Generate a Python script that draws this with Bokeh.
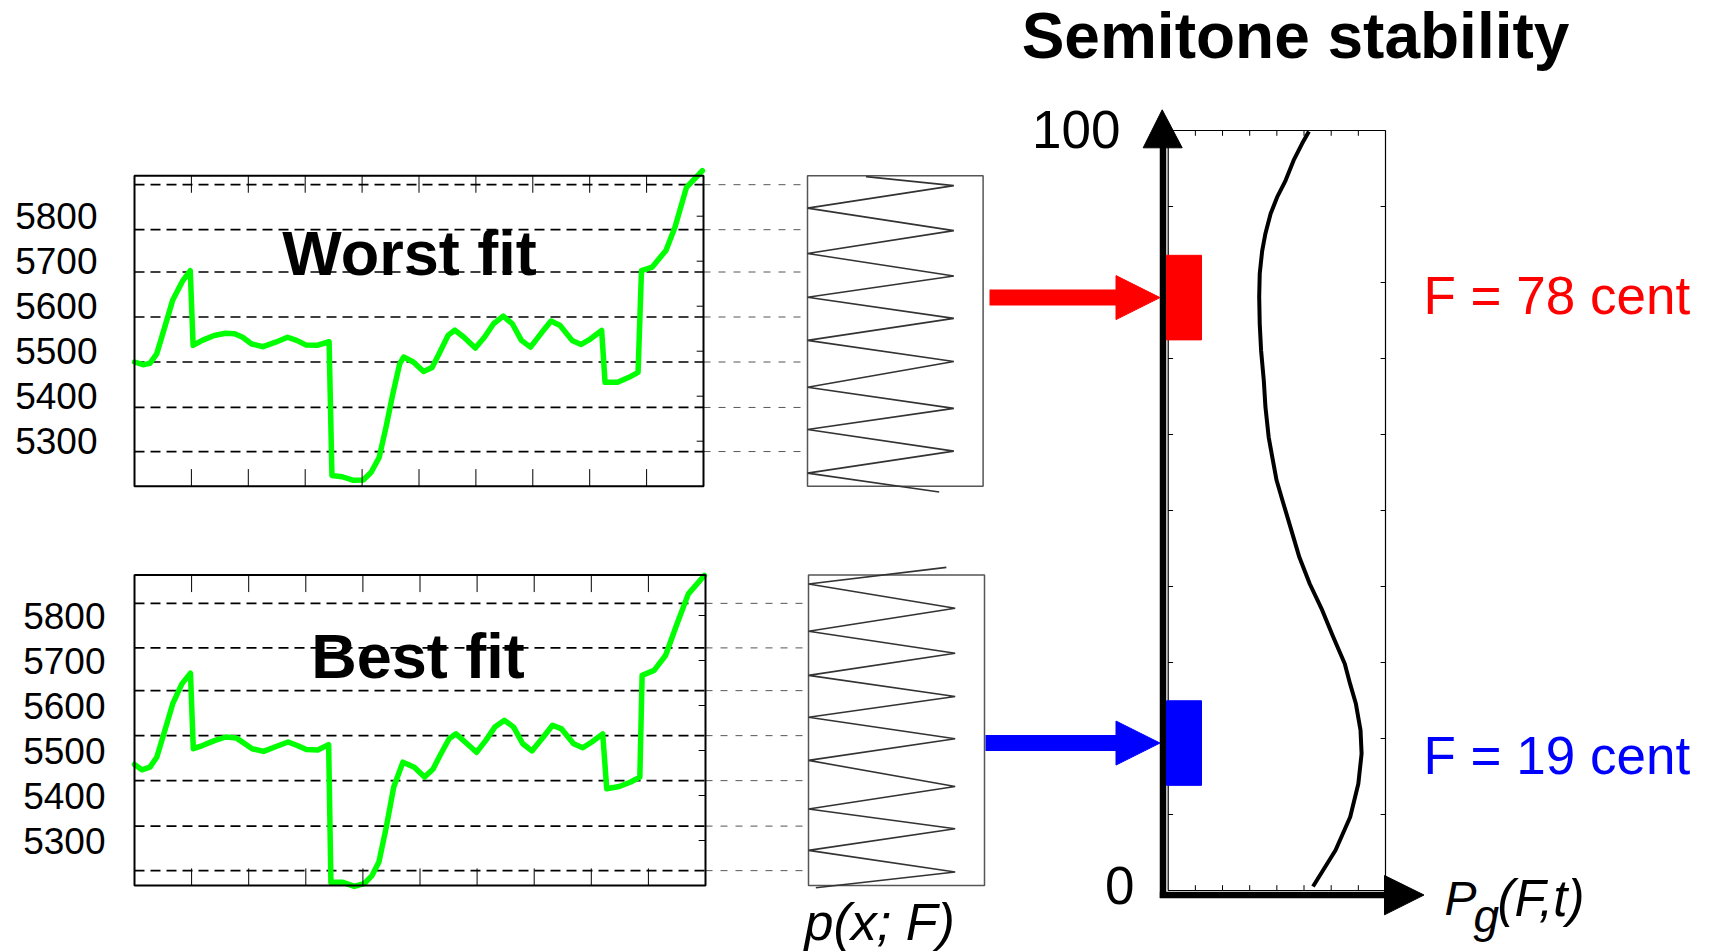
from bokeh.plotting import figure
from bokeh.models import Range1d, Arrow, NormalHead
from bokeh.core.properties import value
from bokeh.embed import file_html
from bokeh.resources import INLINE

FONT = "Liberation Sans"

# ---------------- data ----------------
pitch_ticks = [5300, 5400, 5500, 5600, 5700, 5800]
pitch_tick_labels = ["5300", "5400", "5500", "5600", "5700", "5800"]
time_ticks = [1, 2, 3, 4, 5, 6, 7, 8, 9]

worst_t = [0.00, 0.15, 0.27, 0.39, 0.53, 0.67, 0.85, 0.98, 1.03, 1.19, 1.40, 1.60, 1.76, 1.90,
           2.06, 2.26, 2.48, 2.69, 2.85, 3.01, 3.21, 3.42, 3.47, 3.65, 3.85, 4.02, 4.16, 4.30,
           4.42, 4.54, 4.66, 4.73, 4.90, 5.08, 5.23, 5.35, 5.51, 5.63, 5.79, 5.99, 6.15, 6.31,
           6.48, 6.64, 6.80, 6.96, 7.16, 7.32, 7.48, 7.69, 7.85, 8.01, 8.21, 8.27, 8.49, 8.69,
           8.85, 8.91, 9.10, 9.34, 9.50, 9.70, 9.98]
worst_cents = [5476, 5470, 5473, 5494, 5553, 5613, 5657, 5679, 5513, 5524, 5535, 5540, 5539, 5531,
               5516, 5510, 5520, 5531, 5524, 5514, 5513, 5521, 5224, 5221, 5213, 5214, 5231, 5264,
               5331, 5405, 5472, 5487, 5476, 5455, 5464, 5494, 5535, 5547, 5531, 5507, 5531, 5561,
               5578, 5561, 5524, 5509, 5542, 5567, 5557, 5524, 5515, 5527, 5546, 5431, 5431, 5442,
               5453, 5679, 5687, 5724, 5776, 5864, 5901]

best_t = [0.00, 0.13, 0.27, 0.39, 0.53, 0.67, 0.83, 0.98, 1.03, 1.19, 1.40, 1.60, 1.78, 1.92,
          2.06, 2.26, 2.48, 2.69, 2.85, 3.01, 3.21, 3.40, 3.44, 3.65, 3.85, 4.02, 4.16, 4.28,
          4.41, 4.54, 4.70, 4.90, 5.08, 5.23, 5.35, 5.51, 5.63, 5.79, 5.99, 6.15, 6.31, 6.48,
          6.64, 6.80, 6.96, 7.16, 7.32, 7.48, 7.69, 7.85, 8.01, 8.20, 8.27, 8.49, 8.69, 8.85,
          8.89, 9.10, 9.30, 9.50, 9.70, 9.98]
best_cents = [5469, 5457, 5463, 5485, 5544, 5604, 5648, 5672, 5504, 5511, 5522, 5530, 5528, 5516,
              5504, 5498, 5509, 5519, 5511, 5502, 5501, 5513, 5207, 5207, 5198, 5204, 5222, 5252,
              5330, 5419, 5474, 5463, 5441, 5459, 5489, 5526, 5537, 5519, 5496, 5522, 5552, 5567,
              5552, 5515, 5499, 5530, 5556, 5548, 5515, 5506, 5519, 5537, 5415, 5420, 5430, 5441,
              5667, 5678, 5711, 5781, 5848, 5889]

worst_grid = [5870, 5770, 5676, 5576, 5476, 5375, 5277]
best_grid = [5827, 5728, 5633, 5533, 5433, 5332, 5233]

worst_p_cents = [5888, 5868, 5818, 5768, 5717, 5667, 5620, 5573, 5524, 5477, 5420, 5373, 5326, 5278, 5229, 5187]
worst_p_dens = [0.40, 1, 0, 1, 0, 1, 0, 1, 0, 1, 0, 1, 0, 1, 0, 0.90]
best_p_cents = [5907, 5870, 5816, 5765, 5716, 5667, 5620, 5574, 5526, 5478, 5420, 5370, 5326, 5278, 5230, 5195]
best_p_dens = [0.94, 0, 1, 0, 1, 0, 1, 0, 1, 0, 1, 0, 1, 0, 1, 0.05]

stab_F = [100, 98.4, 96.2, 93.5, 91.3, 89.1, 86.5, 84.2, 81.2, 78.1, 74.5, 71.0, 67.0, 63.5,
          59.5, 56.9, 53.8, 51.1, 47.6, 43.6, 40.1, 36.6, 33.0, 29.5, 26.8, 24.2, 20.7, 17.6,
          13.6, 9.2, 4.8, 0.0]
stab_P = [5.18, 4.93, 4.62, 4.32, 4.01, 3.77, 3.58, 3.46, 3.37, 3.35, 3.37, 3.42, 3.52, 3.58,
          3.70, 3.83, 3.99, 4.21, 4.50, 4.83, 5.21, 5.67, 6.08, 6.50, 6.70, 6.91, 7.08, 7.12,
          7.00, 6.70, 6.16, 5.33]
stab_ticks_F = [10, 20, 30, 40, 50, 60, 70, 80, 90]
stab_ticks_P = [1, 2, 3, 4, 5, 6, 7]

F_worst = 78
F_best = 19
F_band = 5.6

# ---------------- layout (page pixels) ----------------
X0, X1, Y0, Y1 = 0, 1710, 0, 952
PANELS = {
    "wl": ((0, 10), (5200, 5890), (134, 703, 175.2, 485.7)),
    "bl": ((0, 10), (5200, 5890), (134, 705, 574.5, 885.0)),
    "wp": ((0, 1.2), (5200, 5890), (807, 982.6, 175.2, 485.7)),
    "bp": ((0, 1.2), (5200, 5890), (808, 984, 574.5, 885.0)),
    "sf": ((0, 8), (0, 100), (1167.7, 1385, 130, 890)),     # frame of the stability box
    "st": ((0, 8), (0, 100), (1167.7, 1385, 131, 886)),     # stability data
}

p = figure(width=X1 - X0, height=Y1 - Y0, x_range=Range1d(X0, X1), y_range=Range1d(Y1, Y0),
           output_backend="svg", toolbar_location=None, tools="", min_border=0,
           x_axis_type=None, y_axis_type=None)
p.outline_line_color = None
p.xgrid.visible = False
p.ygrid.visible = False
p.background_fill_color = "white"
p.border_fill_color = "white"

xr, yr = {}, {}
for k, (xl, yl, (L, R, T, B)) in PANELS.items():
    kx = (xl[1] - xl[0]) / (R - L)
    xr[k] = Range1d(xl[0] + (X0 - L) * kx, xl[0] + (X1 - L) * kx)
    ky = (yl[1] - yl[0]) / (B - T)
    yr[k] = Range1d(yl[0] - (Y1 - B) * ky, yl[0] + (B - Y0) * ky)
p.extra_x_ranges = xr
p.extra_y_ranges = yr


def text(x, y, s, size, color="black", style="normal", align="left", baseline="middle",
         xn="default", yn="default"):
    p.text(x=x, y=y, text=s, text_font=value(FONT), text_font_size=f"{size}px",
           text_font_style=style, text_color=color, text_align=align, text_baseline=baseline,
           x_range_name=xn, y_range_name=yn)


# ---------------- left panels + p(x;F) panels ----------------
for lk, pk, t, c, grid, pc, pd, lab_x in [
    ("wl", "wp", worst_t, worst_cents, worst_grid, worst_p_cents, worst_p_dens, 97),
    ("bl", "bp", best_t, best_cents, best_grid, best_p_cents, best_p_dens, 105),
]:
    xl, yl, box = PANELS[lk]
    pxl, pyl, pbox = PANELS[pk]
    n = len(grid)
    # dashed semitone grid inside the panel
    p.segment(x0=[xl[0]] * n, x1=[xl[1]] * n, y0=grid, y1=grid, line_color="black",
              line_width=1.7, line_dash="10 6", x_range_name=lk, y_range_name=lk)
    # dashed continuation to the p(x;F) box
    p.segment(x0=[box[1]] * n, x1=[pbox[0]] * n, y0=grid, y1=grid, line_color="#555555",
              line_width=1, line_dash="7 8", y_range_name=lk)
    # pitch trajectory
    p.line(t, c, line_color="#00ff00", line_width=5.5, line_join="round", line_cap="round",
           x_range_name=lk, y_range_name=lk)
    # ticks
    tl = 0.055 * (yl[1] - yl[0])
    m = len(time_ticks)
    p.segment(x0=time_ticks, x1=time_ticks, y0=[yl[0]] * m, y1=[yl[0] + tl] * m,
              line_color="black", line_width=1, x_range_name=lk, y_range_name=lk)
    p.segment(x0=time_ticks, x1=time_ticks, y0=[yl[1]] * m, y1=[yl[1] - tl] * m,
              line_color="black", line_width=1, x_range_name=lk, y_range_name=lk)
    q = len(pitch_ticks)
    p.segment(x0=[xl[1]] * q, x1=[xl[1] - 0.12] * q, y0=pitch_ticks, y1=pitch_ticks,
              line_color="black", line_width=1, x_range_name=lk, y_range_name=lk)
    # frame
    p.quad(left=[xl[0]], right=[xl[1]], bottom=[yl[0]], top=[yl[1]], fill_color=None,
           line_color="black", line_width=2, x_range_name=lk, y_range_name=lk)
    # tick labels
    text([lab_x] * q, pitch_ticks, pitch_tick_labels, 37, align="right", yn=lk)
    # p(x;F) box and curve
    p.quad(left=[pxl[0]], right=[pxl[1]], bottom=[pyl[0]], top=[pyl[1]], fill_color=None,
           line_color="#555555", line_width=1.5, x_range_name=pk, y_range_name=pk)
    p.line(pd, pc, line_color="#333333", line_width=1.6, x_range_name=pk, y_range_name=pk)

text([409], [252.5], ["Worst fit"], 63, style="bold", align="center")
text([417.5], [655], ["Best fit"], 63, style="bold", align="center")
text([804], [921], ["p(x; F)"], 52, style="italic")

# ---------------- semitone stability panel ----------------
fx, fy, fbox = PANELS["sf"]
p.quad(left=[fx[0]], right=[fx[1]], bottom=[fy[0]], top=[fy[1]], fill_color=None,
       line_color="black", line_width=1.2, x_range_name="sf", y_range_name="sf")
a = len(stab_ticks_P)
b = len(stab_ticks_F)
p.segment(x0=stab_ticks_P, x1=stab_ticks_P, y0=[fy[1]] * a, y1=[fy[1] - 0.7] * a,
          line_color="black", line_width=1, x_range_name="sf", y_range_name="sf")
p.segment(x0=stab_ticks_P, x1=stab_ticks_P, y0=[fy[0]] * a, y1=[fy[0] + 0.7] * a,
          line_color="black", line_width=1, x_range_name="sf", y_range_name="sf")
p.segment(x0=[fx[1]] * b, x1=[fx[1] - 0.18] * b, y0=stab_ticks_F, y1=stab_ticks_F,
          line_color="black", line_width=1, x_range_name="sf", y_range_name="sf")
p.segment(x0=[fx[0]] * b, x1=[fx[0] + 0.18] * b, y0=stab_ticks_F, y1=stab_ticks_F,
          line_color="black", line_width=1, x_range_name="sf", y_range_name="sf")
p.line(stab_P, stab_F, line_color="black", line_width=4, line_join="round",
       x_range_name="st", y_range_name="st")

# thick axes with arrow heads (page pixels)
p.line([1162.5, 1162.5], [897.5, 146], line_color="black", line_width=6.5)
p.patch([1142.7, 1181.7, 1161.7], [147.3, 147.3, 109.3], color="black")
p.line([1159.3, 1385], [894.5, 894.5], line_color="black", line_width=6.5)
p.patch([1384, 1384, 1423.5], [875, 914.3, 894.5], color="black")

# F markers and arrows
for F, col, x_start in [(F_worst, "#ff0000", 989), (F_best, "#0000ff", 985)]:
    p.add_layout(Arrow(x_start=x_start, x_end=1159.5, y_start=F, y_end=F, y_range_name="st",
                       line_color=col, line_width=16,
                       end=NormalHead(size=44, fill_color=col, line_color=col, line_width=1)))
    p.quad(left=[1166], right=[1201], bottom=[F - F_band], top=[F + F_band], color=col,
           y_range_name="st")

text([1423], [294.5], [f"F = {F_worst} cent"], 53, color="#ff0000")
text([1423], [755], [f"F = {F_best} cent"], 53, color="#0000ff")
text([1120], [128.5], ["100"], 53, align="right")
text([1134], [885], ["0"], 53, align="right")
text([1444], [898], ["P"], 48, style="italic")
text([1473], [915], ["g"], 46, style="italic")
text([1497], [898], ["(F,t)"], 51, style="italic")
text([1295], [35], ["Semitone stability"], 64, style="bold", align="center")

open("out.html", "w").write(file_html(p, INLINE))
